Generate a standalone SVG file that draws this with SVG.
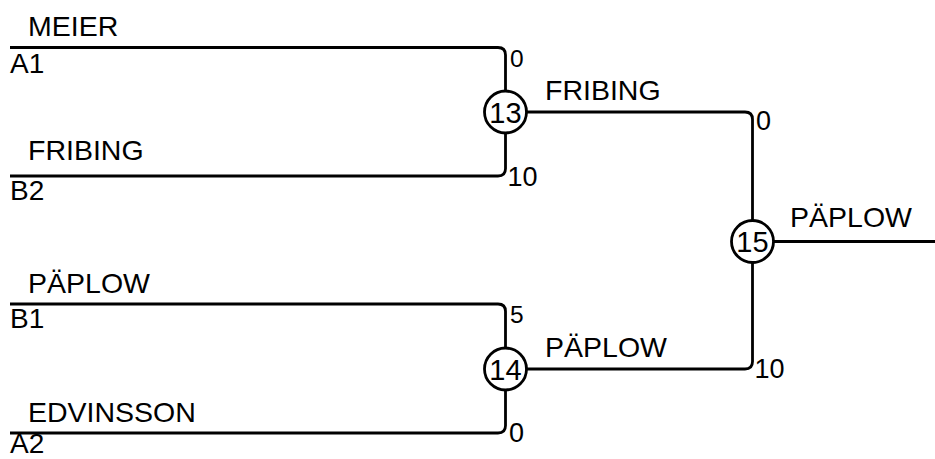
<svg xmlns="http://www.w3.org/2000/svg" width="935" height="459" viewBox="0 0 935 459">
<style>
text { font-family: "Liberation Sans", Arial, sans-serif; fill: #000; }
.name { font-size: 28.5px; }
.seed { font-size: 28px; }
.score { font-size: 27px; }
.small { font-size: 24.5px; }
.num { font-size: 29px; text-anchor: middle; }
.wire { fill: none; stroke: #000; stroke-width: 2.8; }
.node { fill: #fff; stroke: #000; stroke-width: 2.8; }
</style>
<rect width="935" height="459" fill="#fff"/>
<g id="connectors">
  <path class="wire" d="M10,47.5 H498 Q505.5,47.5 505.5,55 V91"/>
  <path class="wire" d="M10,176 H498 Q505.5,176 505.5,168.5 V133"/>
  <path class="wire" d="M10,304 H498 Q505.5,304 505.5,311.5 V348"/>
  <path class="wire" d="M10,433 H498 Q505.5,433 505.5,425.5 V390"/>
  <path class="wire" d="M526.5,112 H745 Q752.5,112 752.5,119.5 V220.5"/>
  <path class="wire" d="M526.5,369 H745 Q752.5,369 752.5,361.5 V262.5"/>
  <path class="wire" d="M773.5,241.5 H935"/>
</g>
<g id="entry-a1">
  <text class="name" x="28" y="36">MEIER</text>
  <text class="seed" x="10" y="73">A1</text>
</g>
<g id="entry-b2">
  <text class="name" x="28" y="160">FRIBING</text>
  <text class="seed" x="10" y="200">B2</text>
</g>
<g id="entry-b1">
  <text class="name" x="28" y="293">PÄPLOW</text>
  <text class="seed" x="10" y="328">B1</text>
</g>
<g id="entry-a2">
  <text class="name" x="28" y="422">EDVINSSON</text>
  <text class="seed" x="10" y="453">A2</text>
</g>
<g id="match-13">
  <circle class="node" cx="505.5" cy="112" r="21"/>
  <text class="num" x="505.5" y="122.5">13</text>
  <text class="small" x="510" y="67">0</text>
  <text class="score" x="507.5" y="186">10</text>
  <text class="name" x="545" y="100">FRIBING</text>
</g>
<g id="match-14">
  <circle class="node" cx="505.5" cy="369" r="21"/>
  <text class="num" x="505.5" y="379.5">14</text>
  <text class="small" x="510" y="322.5">5</text>
  <text class="score" x="509" y="441.5">0</text>
  <text class="name" x="545" y="357">PÄPLOW</text>
</g>
<g id="match-15">
  <circle class="node" cx="752.5" cy="241.5" r="21"/>
  <text class="num" x="752.5" y="252">15</text>
  <text class="score" x="756" y="130">0</text>
  <text class="score" x="754.5" y="378">10</text>
  <text class="name" x="790" y="227">PÄPLOW</text>
</g>
</svg>
